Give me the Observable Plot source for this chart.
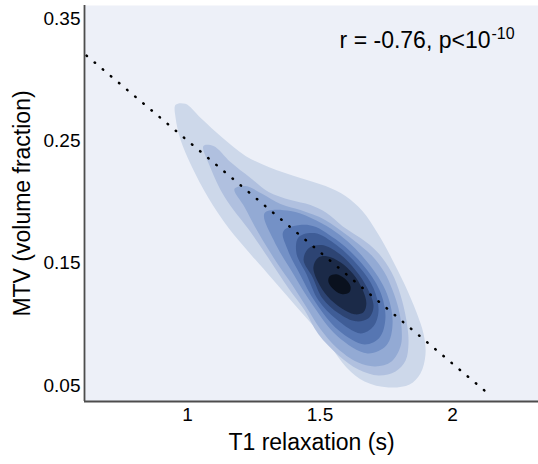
<!DOCTYPE html>
<html>
<head>
<meta charset="utf-8">
<script src="https://cdn.jsdelivr.net/npm/d3@7"></script>
<script src="https://cdn.jsdelivr.net/npm/@observablehq/plot@0.6"></script>
<style>
  html, body { margin: 0; padding: 0; background: #ffffff; }
  #chart { width: 538px; height: 464px; }
</style>
</head>
<body>
<div id="chart"></div>
<script>
// ---- data ----
const xTicks = [1, 1.5, 2];
const yTicks = [0.05, 0.15, 0.25, 0.35];
const xTitle = "T1 relaxation (s)";
const yTitle = "MTV (volume fraction)";
const statText = "r = -0.76, p<10";
const statExponent = "-10";

// regression line end points (T1 s, MTV)
const fitT1 = [0.619, 2.143];
const fitMTV = [0.3197, 0.0418];

// density contour polygons, outermost (lowest density) first: [T1, MTV]
const contour1 = [[0.955,0.2795],[0.992,0.2803],[1.049,0.2689],[1.132,0.2525],[1.219,0.2377],[1.306,0.2287],[1.426,0.2197],[1.521,0.2131],[1.596,0.2049],[1.660,0.1926],[1.717,0.1746],[1.770,0.1541],[1.819,0.1328],[1.864,0.1098],[1.891,0.0918],[1.898,0.0754],[1.879,0.0598],[1.838,0.0508],[1.758,0.0484],[1.668,0.0533],[1.600,0.0648],[1.525,0.0861],[1.426,0.1107],[1.321,0.1369],[1.238,0.1574],[1.155,0.1787],[1.079,0.2033],[1.015,0.2295],[0.974,0.2508],[0.955,0.2689]];
const contour2 = [[1.060,0.2459],[1.098,0.2459],[1.162,0.2328],[1.238,0.2197],[1.306,0.2082],[1.389,0.2016],[1.464,0.1975],[1.525,0.1910],[1.585,0.1803],[1.653,0.1705],[1.717,0.1590],[1.770,0.1426],[1.804,0.1238],[1.826,0.1033],[1.834,0.0852],[1.823,0.0705],[1.785,0.0615],[1.721,0.0582],[1.645,0.0631],[1.570,0.0746],[1.494,0.0918],[1.442,0.1115],[1.381,0.1295],[1.313,0.1516],[1.238,0.1754],[1.140,0.2041],[1.087,0.2279]];
const contour3 = [[1.177,0.2107],[1.219,0.2131],[1.283,0.2066],[1.351,0.1984],[1.426,0.1934],[1.521,0.1852],[1.596,0.1738],[1.660,0.1631],[1.698,0.1557],[1.743,0.1426],[1.774,0.1279],[1.796,0.1131],[1.808,0.0967],[1.804,0.0820],[1.770,0.0697],[1.709,0.0656],[1.642,0.0689],[1.562,0.0811],[1.502,0.0959],[1.449,0.1139],[1.396,0.1320],[1.336,0.1508],[1.268,0.1746],[1.215,0.1959]];
const contour4 = [[1.291,0.1910],[1.389,0.1926],[1.543,0.1779],[1.660,0.1557],[1.747,0.1279],[1.774,0.1016],[1.751,0.0828],[1.679,0.0762],[1.566,0.0902],[1.468,0.1172],[1.400,0.1410],[1.325,0.1689]];
const contour5 = [[1.362,0.1762],[1.460,0.1811],[1.558,0.1697],[1.660,0.1492],[1.725,0.1279],[1.747,0.1057],[1.725,0.0893],[1.668,0.0836],[1.570,0.0951],[1.483,0.1180],[1.426,0.1402],[1.377,0.1615]];
const contour6 = [[1.419,0.1713],[1.479,0.1746],[1.562,0.1648],[1.649,0.1467],[1.702,0.1295],[1.721,0.1115],[1.702,0.0984],[1.653,0.0926],[1.562,0.1041],[1.494,0.1197],[1.449,0.1410],[1.411,0.1582]];
const contour7 = [[1.457,0.1623],[1.506,0.1648],[1.570,0.1582],[1.634,0.1443],[1.679,0.1295],[1.702,0.1148],[1.683,0.1049],[1.634,0.1025],[1.570,0.1090],[1.509,0.1213],[1.472,0.1385],[1.438,0.1525]];
const contour8 = [[1.491,0.1541],[1.525,0.1557],[1.577,0.1508],[1.626,0.1410],[1.660,0.1287],[1.675,0.1172],[1.664,0.1098],[1.630,0.1082],[1.581,0.1131],[1.528,0.1230],[1.491,0.1352],[1.475,0.1467]];
const contour9 = [[1.611,0.1262],[1.585,0.1246],[1.555,0.1279],[1.532,0.1344],[1.536,0.1393],[1.562,0.1410],[1.592,0.1377],[1.615,0.1311]];

const contours = [contour1, contour2, contour3, contour4, contour5, contour6, contour7, contour8, contour9];
const levelColors = ["#cdd8ea", "#b0c0df", "#93aad4", "#7491c6", "#5676b2", "#3f5d97", "#2d4473", "#1b2a48", "#0a111e"];

// ---- chart ----
const xDomain = [0.6113, 2.3245];
const yDomain = [0.0369, 0.3607];

const contourMarks = contours.map((pts, i) =>
  Plot.line(pts, {x: d => d[0], y: d => d[1], fill: levelColors[i], stroke: "none", curve: "catmull-rom-closed"})
);

const fitRows = fitT1.map((t, i) => ({t1: t, mtv: fitMTV[i]}));

const chart = Plot.plot({
  width: 538,
  height: 464,
  marginLeft: 84,
  marginRight: 0,
  marginTop: 5,
  marginBottom: 63,
  style: {fontFamily: "'Liberation Sans', Arial, Helvetica, sans-serif", fontSize: "19px", color: "#000", background: "#fff"},
  x: {domain: xDomain, ticks: xTicks, tickSize: 0, tickPadding: 6, label: null, tickFormat: d => String(d)},
  y: {domain: yDomain, ticks: yTicks, tickSize: 0, tickPadding: 4, label: null, tickFormat: d3.format(".2f")},
  marks: [
    Plot.frame({fill: "#edf0f8", stroke: "none"}),
    ...contourMarks,
    Plot.line(fitRows, {x: "t1", y: "mtv", stroke: "#000", strokeWidth: 2.5, strokeDasharray: "0.5 10.1", strokeLinecap: "round"}),
    Plot.ruleX([xDomain[0]], {stroke: "#4d4d4d", strokeWidth: 1.8}),
    Plot.ruleY([yDomain[0]], {stroke: "#4d4d4d", strokeWidth: 1.8}),
    Plot.text([statText], {frameAnchor: "top-right", textAnchor: "end", lineAnchor: "middle", dx: -48, dy: 35, fontSize: 23, fill: "#000"}),
    Plot.text([statExponent], {frameAnchor: "top-right", textAnchor: "start", lineAnchor: "middle", dx: -47, dy: 28, fontSize: 16, fill: "#000"}),
    Plot.text([xTitle], {frameAnchor: "bottom", lineAnchor: "middle", dy: 41, fontSize: 23, fill: "#000"}),
    Plot.text([yTitle], {frameAnchor: "left", textAnchor: "middle", lineAnchor: "middle", dx: -62, rotate: -90, fontSize: 23, fill: "#000"})
  ]
});
document.getElementById("chart").appendChild(chart);
</script>
</body>
</html>
